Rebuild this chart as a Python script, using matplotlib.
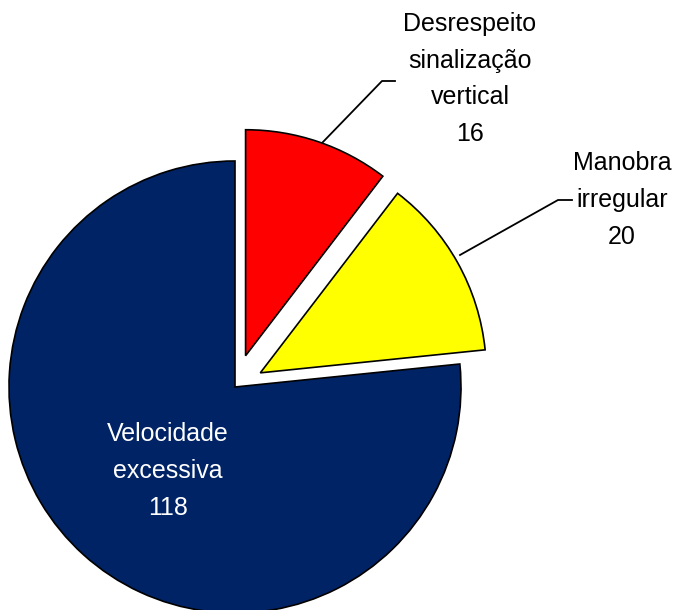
import matplotlib
matplotlib.use("Agg")
import matplotlib.pyplot as plt

labels = ["Desrespeito\nsinalização\nvertical", "Manobra\nirregular", "Velocidade\nexcessiva"]
values = [16, 20, 118]
colors = ["#FF0000", "#FFFF00", "#002366"]

W, H = 677, 610
R = 226
# pie explode is in data units here (axes are in pixels)
explode = [33, 29, 0]

plt.rcParams["font.family"] = ["Liberation Sans", "DejaVu Sans"]

fig = plt.figure(figsize=(W / 100, H / 100), dpi=100, facecolor="white")
ax = fig.add_axes([0, 0, 1, 1])


def py(y):
    # pixel row (from top) -> data y
    return H - y


ax.pie(values, colors=colors, explode=explode, startangle=90, counterclock=False,
       center=(235, py(387)), radius=R, frame=True,
       wedgeprops=dict(edgecolor="black", linewidth=1.2))
ax.set_xlim(0, W)
ax.set_ylim(0, H)
ax.set_aspect("equal")
ax.axis("off")

FS = 18
LS = 1.66

# leader lines
ax.plot([395, 382, 322], [py(81), py(81), py(143)], color="black", lw=1.3)
ax.plot([572, 558, 460], [py(200), py(200), py(255)], color="black", lw=1.3)

ax.text(470, py(79), f"{labels[0]}\n{values[0]}", ha="center", va="center",
        fontsize=FS, linespacing=LS, color="black")
ax.text(622, py(200), f"{labels[1]}\n{values[1]}", ha="center", va="center",
        fontsize=FS, linespacing=LS, color="black")
ax.text(168, py(471), f"{labels[2]}\n{values[2]}", ha="center", va="center",
        fontsize=FS, linespacing=LS, color="white")

fig.savefig("out.png", dpi=100, facecolor="white")
